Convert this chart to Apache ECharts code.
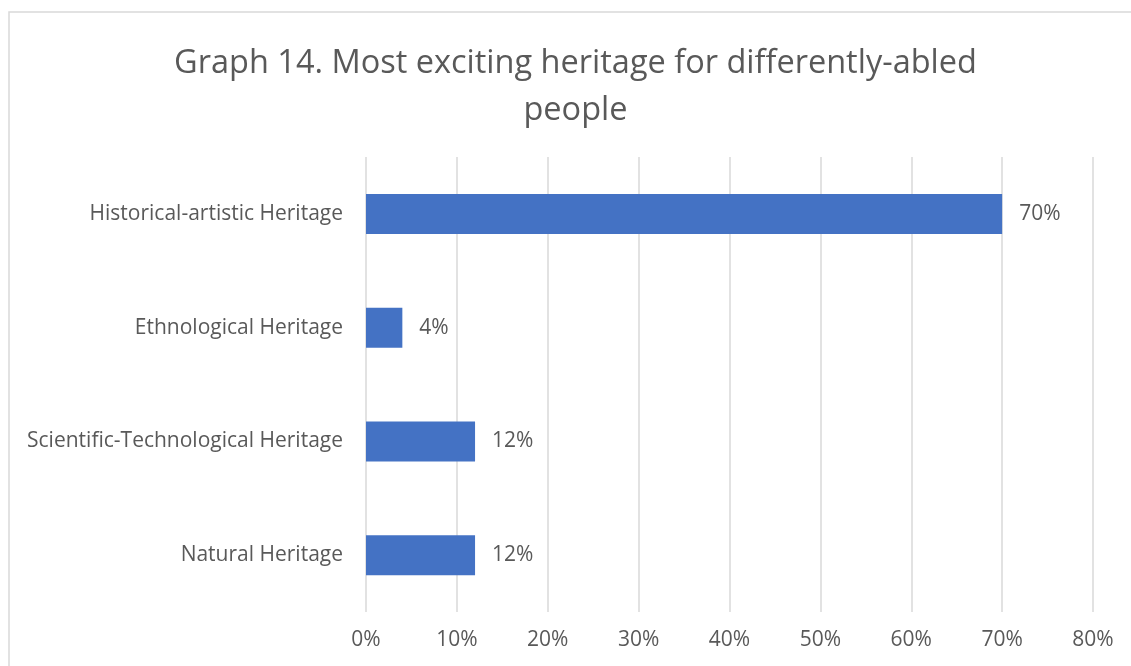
<!DOCTYPE html>
<html>
<head>
<meta charset="utf-8">
<script src="https://cdn.jsdelivr.net/npm/echarts@6/dist/echarts.min.js"></script>
<style>
  html, body { margin: 0; padding: 0; background: #ffffff; }
  #chart { width: 1131px; height: 666px; }
</style>
</head>
<body>
<div id="chart"></div>
<script>
// Heritage categories, listed bottom to top as the category axis draws them
const categories = [
  'Natural Heritage',
  'Scientific-Technological Heritage',
  'Ethnological Heritage',
  'Historical-artistic Heritage'
];
// Share of respondents (%) for each category
const shares = [12, 12, 4, 70];
// Value axis ticks (%)
const axisMin = 0;
const axisMax = 80;
const axisStep = 10;

const TITLE = 'Graph 14. Most exciting heritage for differently-abled\npeople';
const FONT = '"Open Sans", "Noto Sans", sans-serif';
const TEXT = '#595959';

const chart = echarts.init(document.getElementById('chart'), null, { renderer: 'canvas' });
chart.setOption({
  backgroundColor: '#ffffff',
  animation: false,
  graphic: [{
    type: 'rect',
    shape: { x: 9, y: 12, width: 1200, height: 700 },
    style: { fill: 'none', stroke: '#D9D9D9', lineWidth: 1.5 },
    silent: true,
    z: -1
  }, {
    // two-line chart title, centred over the plot
    type: 'text',
    x: 575.5,
    y: 40,
    silent: true,
    style: {
      text: TITLE,
      fontFamily: FONT,
      fontSize: 32.5,
      fontWeight: 'normal',
      fill: TEXT,
      lineHeight: 47,
      align: 'center',
      verticalAlign: 'top'
    }
  }],
  grid: { left: 366, right: 38, top: 157, bottom: 54 },
  xAxis: {
    type: 'value',
    min: axisMin,
    max: axisMax,
    interval: axisStep,
    axisLine: { show: false },
    axisTick: { show: false },
    splitLine: { show: true, lineStyle: { color: '#D9D9D9', width: 1.5 } },
    axisLabel: {
      formatter: '{value}%',
      margin: 18,
      fontFamily: FONT,
      fontSize: 21,
      color: TEXT
    }
  },
  yAxis: {
    type: 'category',
    data: categories,
    axisLine: { show: false },
    axisTick: { show: false },
    axisLabel: {
      margin: 23,
      fontFamily: FONT,
      fontSize: 21,
      color: TEXT
    }
  },
  series: [{
    type: 'bar',
    data: shares,
    barWidth: 40,
    itemStyle: { color: '#4472C4' },
    label: {
      show: true,
      position: 'right',
      distance: 17,
      formatter: '{c}%',
      fontFamily: FONT,
      fontSize: 21,
      color: TEXT
    }
  }]
});
</script>
</body>
</html>
